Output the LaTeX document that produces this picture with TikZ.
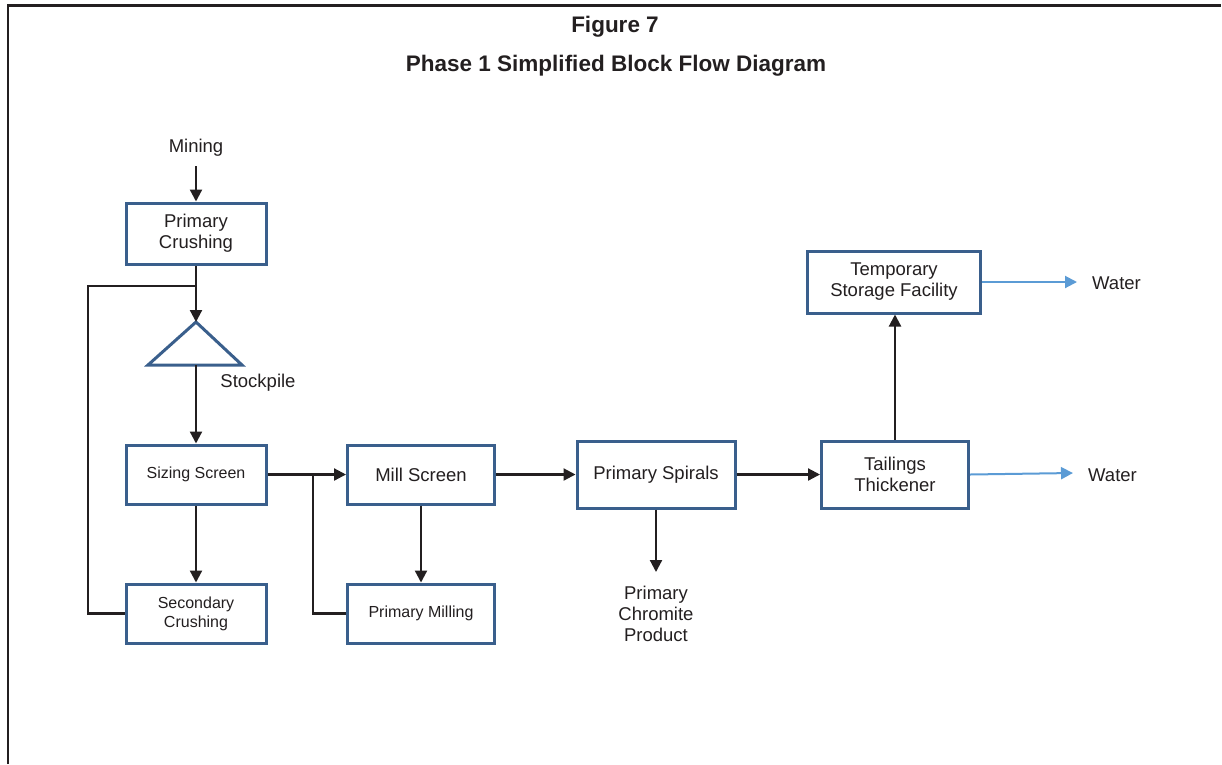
\documentclass[tikz,border=0pt]{standalone}
\usepackage{fontspec}
\setmainfont{Liberation Sans}
\usetikzlibrary{arrows.meta}
\definecolor{boxblue}{RGB}{58,95,140}
\definecolor{waterblue}{RGB}{91,155,213}
\definecolor{ink}{RGB}{35,31,32}
\begin{document}
\begin{tikzpicture}[x=1pt,y=-1pt,
  every node/.style={text=ink,font=\fontsize{18.5}{21}\selectfont,inner sep=0pt},
  block/.style={draw=boxblue,line width=3pt,fill=white,align=center},
  smalltxt/.style={font=\fontsize{16}{19}\selectfont},
  flow/.style={draw=ink,line width=2.2pt,-{Triangle[length=12pt,width=12pt]}},
  plain/.style={draw=ink,line width=2.2pt},
  waterflow/.style={draw=waterblue,line width=2pt,-{Triangle[length=12pt,width=12pt]}},
  lbl/.style={align=center}]
\useasboundingbox (0,0) rectangle (1222,764);
% frame
\draw[ink,line width=2.8pt] (8,764) -- (8,5.5) -- (1221,5.5);
% titles
\node[font=\bfseries\fontsize{22.5}{26}\selectfont] (t1) at (615,27) {Figure 7};
\node[font=\bfseries\fontsize{22.5}{26}\selectfont] (t2) at (616,66) {Phase 1 Simplified Block Flow Diagram};
% nodes
\node (mining) at (196,148) {Mining};
\node[block,minimum width=140pt,minimum height=61pt] (pc) at (196,233.5) {Primary\\Crushing};
\coordinate (apex) at (196,322);
\coordinate (basel) at (148,365);
\coordinate (baser) at (242,365);
\coordinate (basem) at (196,365);
\draw[boxblue,line width=3pt,line join=miter] (apex) -- (baser) -- (basel) -- cycle;
\node (stock) at (258,383) {Stockpile};
\node[block,smalltxt,minimum width=140pt,minimum height=59pt] (ss) at (196,474.5) {Sizing Screen};
\node[block,smalltxt,minimum width=140pt,minimum height=59pt] (sc) at (196,613.5) {Secondary\\Crushing};
\node[block,minimum width=147pt,minimum height=59pt] (ms) at (421,474.5) {Mill Screen};
\node[block,smalltxt,minimum width=147pt,minimum height=59pt] (pm) at (421,613.5) {Primary Milling};
\node[block,minimum width=158pt,minimum height=67pt] (psp) at (656,474.5) {Primary Spirals};
\node[lbl] (chrom) at (656,614) {Primary\\Chromite\\Product};
\node[block,minimum width=147pt,minimum height=67pt] (tt) at (895,474.5) {Tailings\\Thickener};
\node[block,minimum width=173pt,minimum height=62pt] (tsf) at (894,282) {Temporary\\Storage Facility};
\node[anchor=west] (w1) at (1092,283) {Water};
\node[anchor=west] (w2) at (1088,475) {Water};
% helper coordinates
\coordinate (minstart) at (196,166);
\coordinate (fbjoin) at (196,286);
\coordinate (fbcorner) at (88,286);
\coordinate (mjoin) at (313,474.5);
\coordinate (chromend) at (656,572);
\coordinate (w1end) at (1077,282);
\coordinate (w2end) at (1073,473);
% connectors
\draw[flow] (minstart) -- (pc.north);
\draw[flow] (pc.south) -- (apex);
\draw[plain] (sc.west) -| (fbcorner) -- (fbjoin);
\draw[flow] (basem) -- (ss.north);
\draw[flow] (ss.south) -- (sc.north);
\draw[flow] (ss.east) -- (ms.west);
\draw[plain] (pm.west) -| (mjoin);
\draw[flow] (ms.south) -- (pm.north);
\draw[flow] (ms.east) -- (psp.west);
\draw[flow] (psp.south) -- (chromend);
\draw[flow] (psp.east) -- (tt.west);
\draw[flow] (tt.north) -- (tt.north |- tsf.south);
\draw[waterflow] (tsf.east) -- (w1end);
\draw[waterflow] (tt.east) -- (w2end);
\end{tikzpicture}
\end{document}
